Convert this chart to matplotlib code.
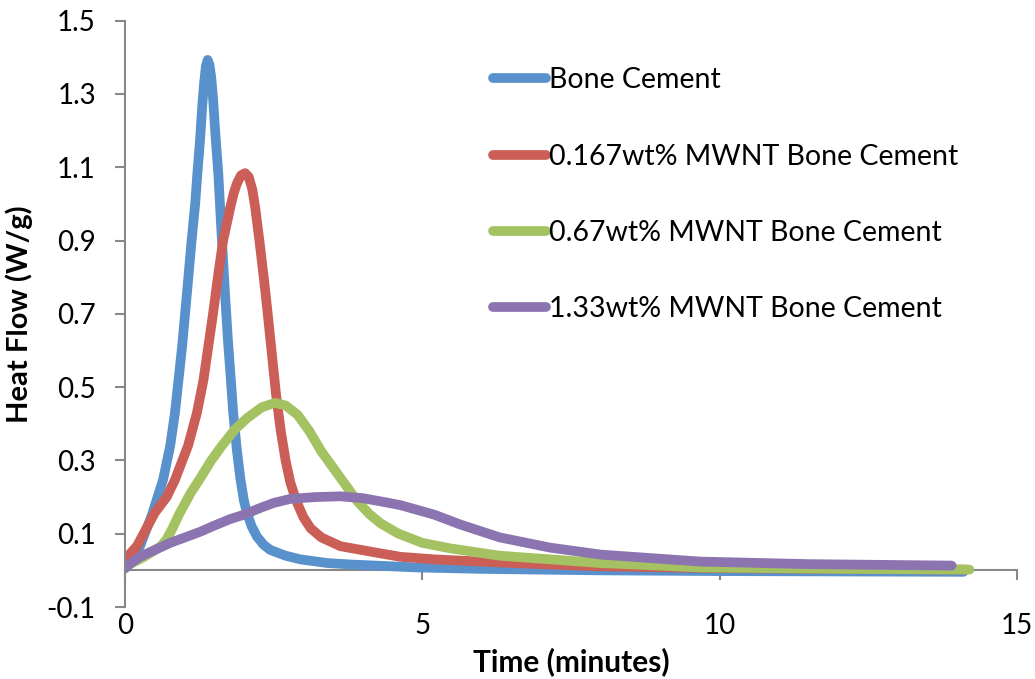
import matplotlib
matplotlib.use("Agg")
import matplotlib.pyplot as plt

# ---- data ----
labels = ["Bone Cement", "0.167wt% MWNT Bone Cement",
          "0.67wt% MWNT Bone Cement", "1.33wt% MWNT Bone Cement"]

t_bone = [0, 0.15, 0.25, 0.45, 0.64, 0.76, 0.84, 0.90, 0.96, 1.01, 1.06, 1.12, 1.18, 1.22,
          1.26, 1.30, 1.33, 1.36, 1.39, 1.42, 1.45, 1.48, 1.52, 1.57, 1.60, 1.63, 1.68,
          1.73, 1.78, 1.82, 1.88, 1.94, 2.0, 2.05, 2.13, 2.22, 2.33, 2.44, 2.7, 2.95,
          3.4, 3.8, 4.9, 6.0, 8.0, 10.0, 12.0, 14.1]
v_bone = [0.01, 0.04, 0.065, 0.15, 0.247, 0.34, 0.43, 0.52, 0.61, 0.70, 0.79, 0.90, 1.0, 1.09,
          1.17, 1.27, 1.33, 1.375, 1.393, 1.38, 1.345, 1.29, 1.19, 1.08, 0.99, 0.90, 0.76,
          0.63, 0.52, 0.43, 0.33, 0.25, 0.19, 0.157, 0.12, 0.092, 0.07, 0.056, 0.04, 0.03,
          0.02, 0.016, 0.008, 0.004, 0.0, -0.002, -0.003, -0.004]

t_167 = [0, 0.04, 0.2, 0.5, 0.7, 0.84, 1.06, 1.21, 1.32, 1.40, 1.48, 1.57, 1.65, 1.77,
         1.83, 1.88, 1.95, 2.02, 2.08, 2.14, 2.19, 2.26, 2.34, 2.40, 2.47, 2.54, 2.62,
         2.70, 2.78, 2.88, 3.0, 3.12, 3.3, 3.62, 4.24, 4.63, 5.2, 6.5, 8.0, 10.0, 12.0, 14.15]
v_167 = [0.02, 0.037, 0.066, 0.157, 0.2, 0.247, 0.34, 0.43, 0.52, 0.61, 0.70, 0.81, 0.90, 0.99,
         1.03, 1.055, 1.078, 1.084, 1.074, 1.04, 0.99, 0.90, 0.79, 0.70, 0.59, 0.48, 0.38,
         0.30, 0.24, 0.19, 0.145, 0.115, 0.09, 0.066, 0.048, 0.037, 0.03, 0.02, 0.011, 0.006, 0.004, 0.002]

t_067 = [0, 0.3, 0.6, 0.7, 0.8, 0.9, 1.0, 1.1, 1.26, 1.45, 1.63, 1.85, 2.05, 2.3, 2.52,
         2.7, 2.9, 3.1, 3.3, 3.5, 3.7, 3.9, 4.1, 4.3, 4.6, 5.0, 5.47, 6.3, 8.0, 9.67, 12.0, 14.2]
v_067 = [0.01, 0.035, 0.065, 0.085, 0.115, 0.15, 0.18, 0.21, 0.25, 0.30, 0.34, 0.385, 0.415, 0.445, 0.457,
         0.45, 0.425, 0.38, 0.325, 0.28, 0.235, 0.19, 0.155, 0.128, 0.1, 0.075, 0.06, 0.04, 0.02, 0.008, 0.004, 0.002]

t_133 = [0, 0.1, 0.25, 0.76, 1.26, 1.5, 1.77, 2.0, 2.27, 2.5, 2.78, 3.2, 3.62, 4.0, 4.34, 4.63,
         5.2, 5.64, 6.3, 7.15, 8.0, 9.67, 11.5, 13.9]
v_133 = [0.005, 0.02, 0.037, 0.075, 0.105, 0.122, 0.14, 0.152, 0.17, 0.184, 0.195, 0.2, 0.202, 0.197, 0.187, 0.178,
         0.152, 0.125, 0.09, 0.062, 0.043, 0.024, 0.017, 0.013]

x_ticks = [0, 5, 10, 15]
y_ticks = [-0.1, 0.1, 0.3, 0.5, 0.7, 0.9, 1.1, 1.3, 1.5]

colors = ["#5891CB", "#CB5F57", "#A5C262", "#8B74B0"]

plt.rcParams['font.family'] = ['Lato', 'DejaVu Sans']

fig = plt.figure(figsize=(10.35, 6.79), dpi=100)
ax = fig.add_axes([125/1035, 1 - 607/679, 892/1035, (607 - 20.7)/679])

series = [(t_bone, v_bone), (t_167, v_167), (t_067, v_067), (t_133, v_133)]
for (t, v), c, lab in zip(series, colors, labels):
    ax.plot(t, v, color=c, lw=7, solid_capstyle='round', solid_joinstyle='round', label=lab)

ax.set_xlim(0, 15)
ax.set_ylim(-0.1, 1.5)
ax.set_xticks(x_ticks)
ax.set_yticks(y_ticks)
ax.set_yticklabels([f"{y:.1f}" for y in y_ticks])

gray = "#888888"
for s in ["top", "right"]:
    ax.spines[s].set_visible(False)
ax.spines["left"].set_color(gray)
ax.spines["left"].set_linewidth(1.5)
ax.spines["bottom"].set_color(gray)
ax.spines["bottom"].set_linewidth(1.5)
ax.spines["bottom"].set_position(("data", 0))
ax.spines["bottom"].set_zorder(0)

ax.tick_params(axis="y", direction="out", length=7, width=1.5, color=gray,
               labelsize=20, pad=14)
ax.tick_params(axis="x", direction="out", length=7, width=1.5, color=gray,
               labelsize=20, pad=24)

ax.set_xlabel("Time (minutes)", fontsize=21.5, fontweight="bold")
ax.set_ylabel("Heat Flow (W/g)", fontsize=21, fontweight="bold")
ax.xaxis.set_label_coords(0.5, -0.068)
ax.yaxis.set_label_coords(-0.103, 0.5)

leg = ax.legend(loc="upper left", bbox_to_anchor=(0.40, 0.94), frameon=False,
                fontsize=20.5, handlelength=1.85, handletextpad=0.12, labelspacing=1.77,
                borderaxespad=0)
for h in leg.get_lines():
    h.set_linewidth(7)

fig.savefig("out.png", dpi=100)
